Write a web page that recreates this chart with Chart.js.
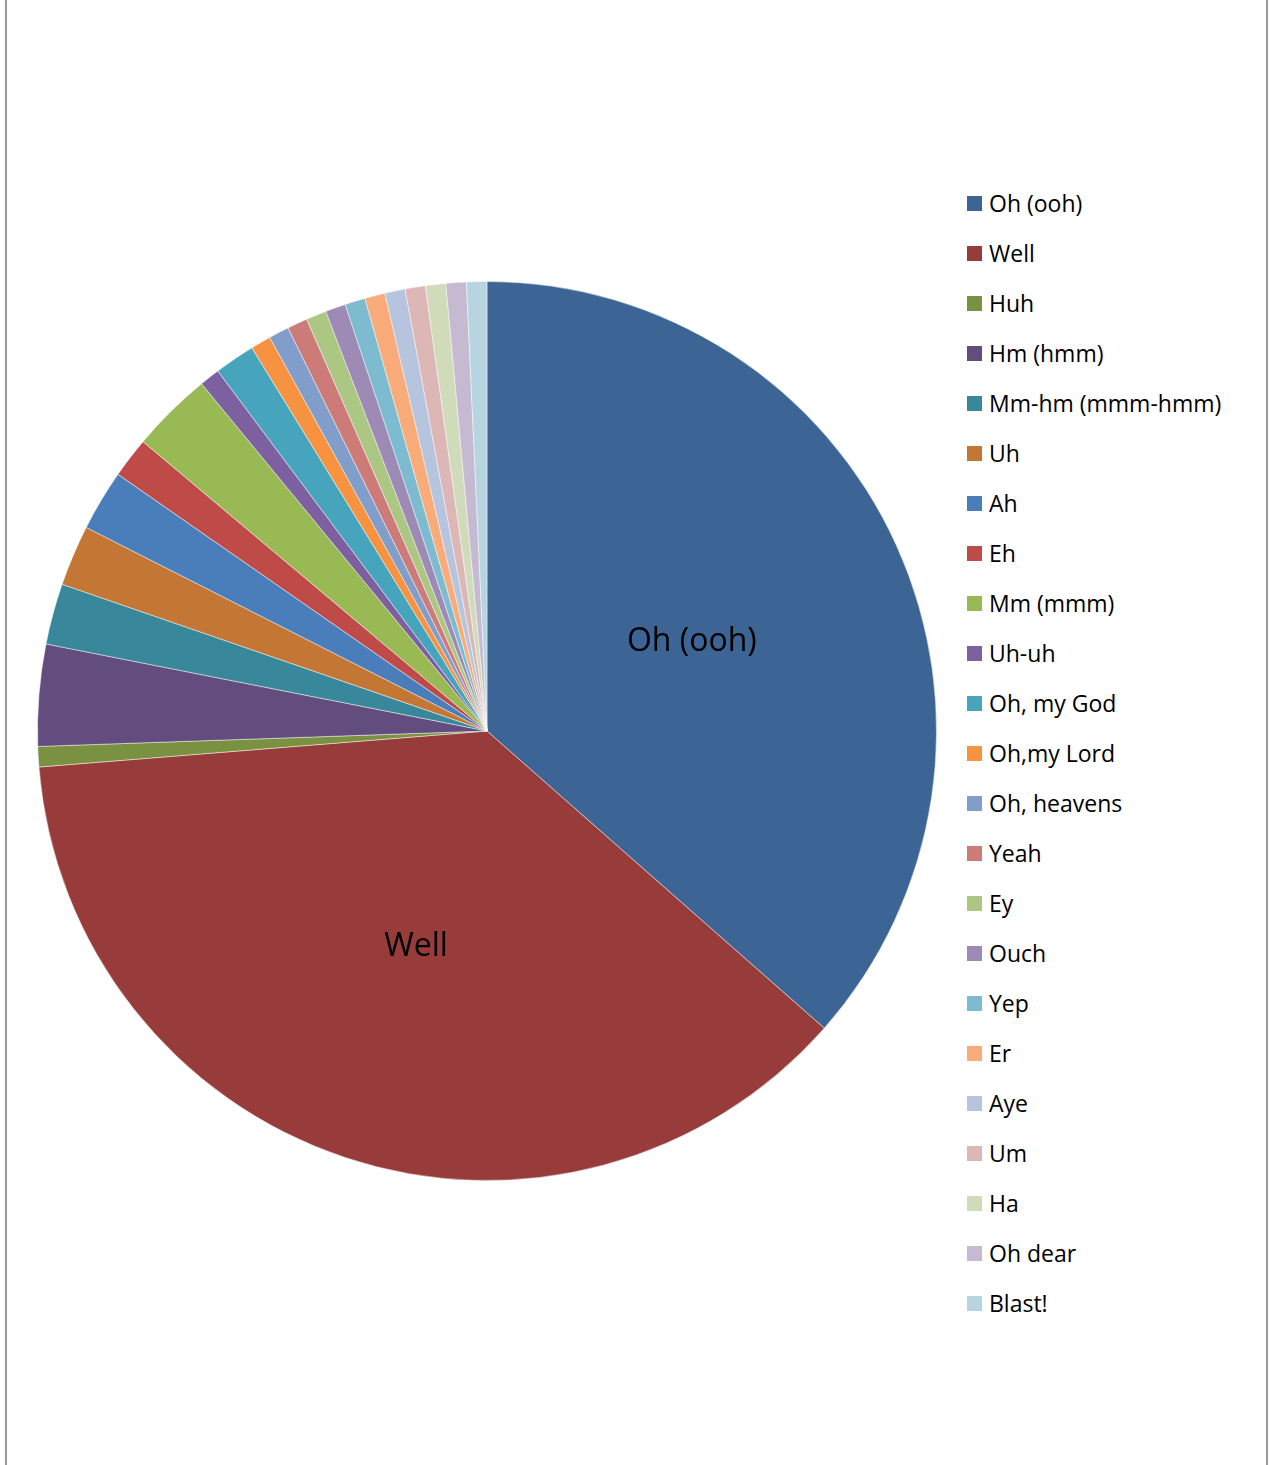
<!DOCTYPE html>
<html>
<head>
    <meta charset="UTF-8">
    <title>Interjections</title>
    <script src="https://cdn.jsdelivr.net/npm/chart.js@4.4.1/dist/chart.umd.min.js"></script>
    <style>
        body { margin: 0; background: #fff; font-family: "Open Sans", Lato, sans-serif; }
        .frame { position: absolute; left: 5px; top: -10px; width: 1259px; height: 1500px; border-left: 2px solid #999; border-right: 2px solid #999; }
        #pieWrap { position: absolute; left: 32px; top: 276px; width: 910px; height: 910px; }
        #legend { position: absolute; left: 967px; top: 178px; margin: 0; padding: 0; list-style: none; }
        #legend li { height: 50px; display: flex; align-items: center; font-size: 23px; color: #000; white-space: nowrap; }
        #legend span.box { display: inline-block; width: 15px; height: 15px; margin-right: 7px; }
    </style>
</head>
<body>
<div class="frame"></div>
<div id="pieWrap"><canvas id="myChart" width="910" height="910"></canvas></div>
<ul id="legend"></ul>

<script>
    // counts
    var labels = ['Oh (ooh)', 'Well', 'Huh', 'Hm (hmm)', 'Mm-hm (mmm-hmm)', 'Uh', 'Ah', 'Eh',
        'Mm (mmm)', 'Uh-uh', 'Oh, my God', 'Oh,my Lord', 'Oh, heavens', 'Yeah', 'Ey', 'Ouch',
        'Yep', 'Er', 'Aye', 'Um', 'Ha', 'Oh dear', 'Blast!'];
    var counts = [50, 51, 1, 5, 3, 3, 3, 2, 4, 1, 2, 1, 1, 1, 1, 1, 1, 1, 1, 1, 1, 1, 1];
    var colors = ['#3c6494', '#973c3b', '#7a9141', '#634d7e', '#38879a', '#c47734',
        '#4a7ebb', '#be4b48', '#98b954', '#7d60a0', '#46a5bd', '#f69240',
        '#809ec9', '#cc7b79', '#acc683', '#9d8ab5', '#7dbbd0', '#f9ac7a',
        '#b7c4de', '#ddb6b6', '#d0dbba', '#c5bad2', '#b7d5e0'];
    var labelled = ['Oh (ooh)', 'Well'];

    var sliceLabels = {
        id: 'sliceLabels',
        afterDatasetsDraw: function(chart) {
            var ctx = chart.ctx;
            var meta = chart.getDatasetMeta(0);
            ctx.save();
            ctx.font = '32px "Open Sans", Lato, sans-serif';
            ctx.fillStyle = '#000';
            ctx.textAlign = 'center';
            ctx.textBaseline = 'middle';
            meta.data.forEach(function(arc, i) {
                if (labelled.indexOf(labels[i]) < 0) return;
                var p = arc.tooltipPosition();
                ctx.fillText(labels[i], p.x, p.y + 3);
            });
            ctx.restore();
        }
    };

    new Chart('myChart', {
        type: 'pie',
        data: {
            labels: labels,
            datasets: [{
                data: counts,
                backgroundColor: colors,
                borderColor: 'rgba(255,255,255,0.45)',
                borderWidth: 1
            }]
        },
        options: {
            responsive: false,
            animation: false,
            layout: { padding: 5 },
            plugins: {
                legend: { display: false },
                tooltip: { enabled: false }
            }
        },
        plugins: [sliceLabels]
    });

    var legend = document.getElementById('legend');
    labels.forEach(function(name, i) {
        var li = document.createElement('li');
        li.innerHTML = '<span class="box" style="background:' + colors[i] + '"></span>' + name;
        legend.appendChild(li);
    });
</script>
</body>
</html>
